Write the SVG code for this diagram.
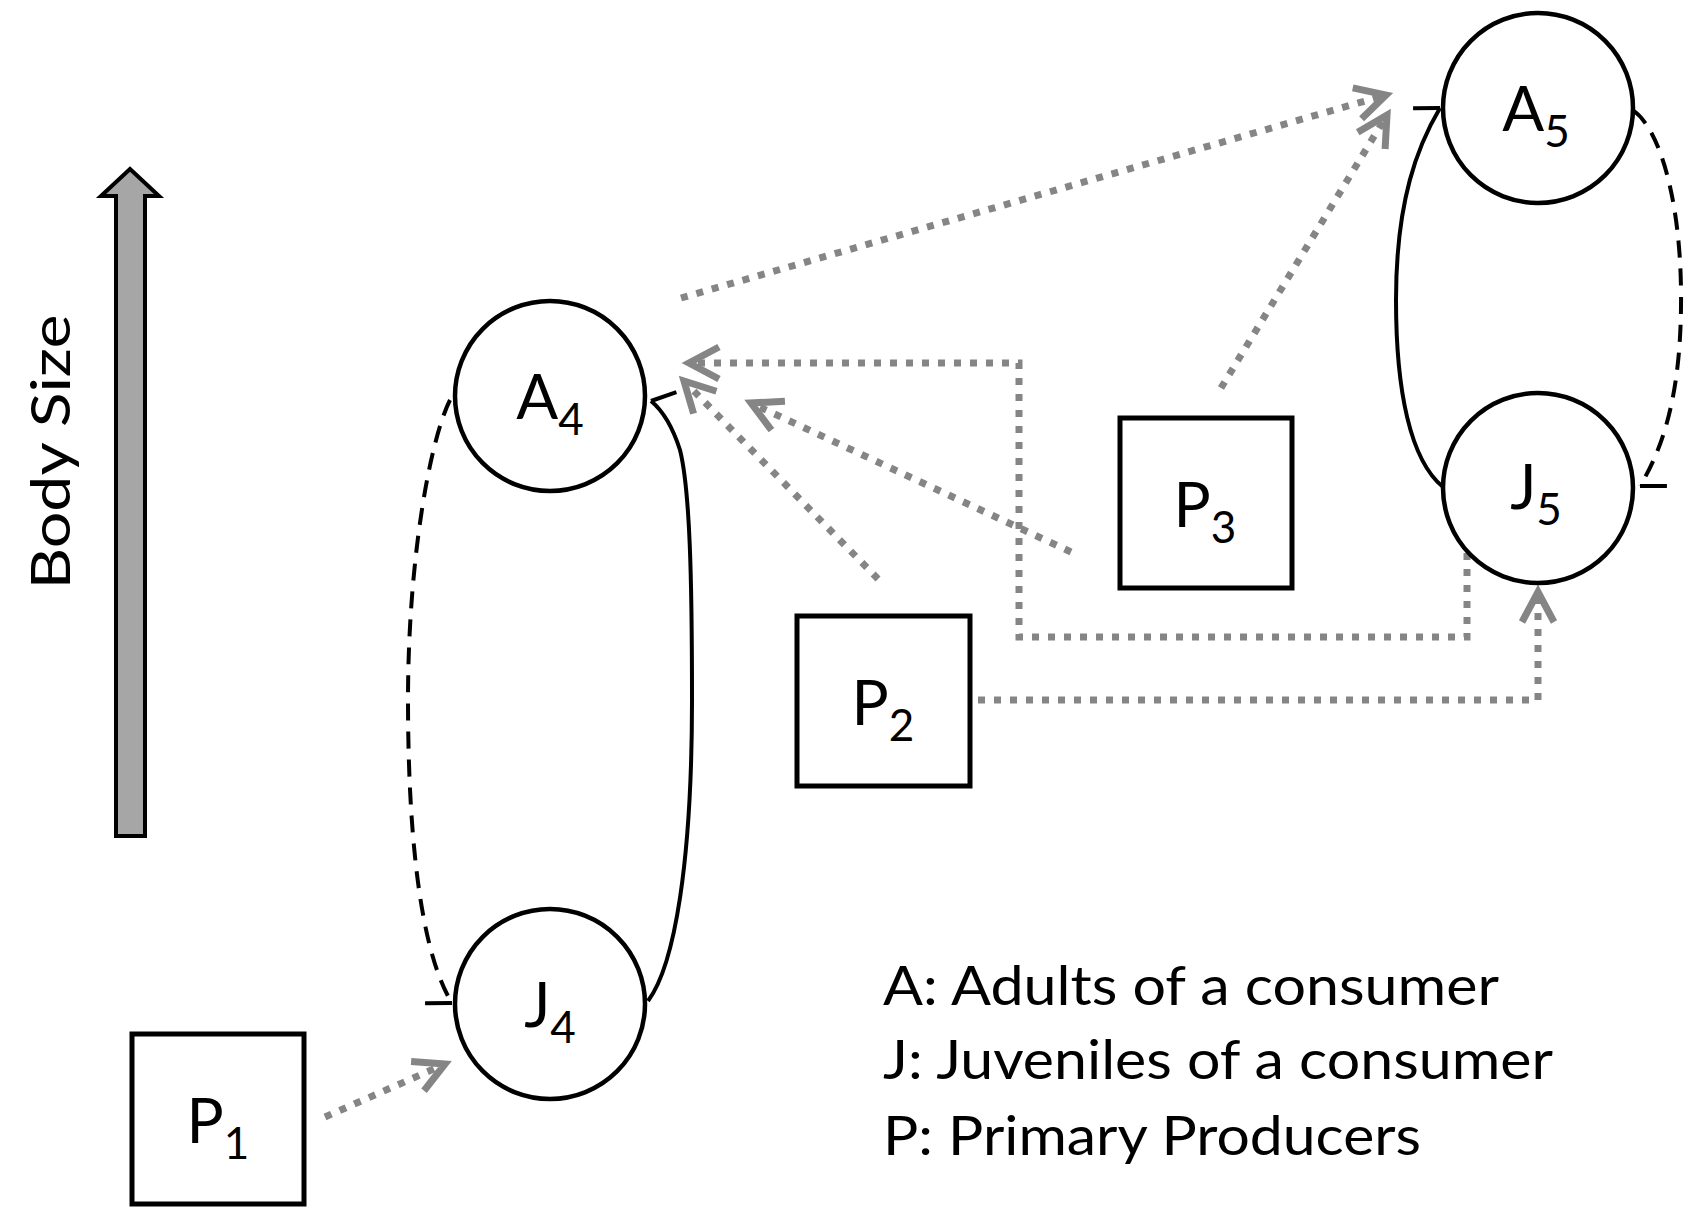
<svg xmlns="http://www.w3.org/2000/svg" width="1690" height="1217" viewBox="0 0 1690 1217">
<style>
  .node { fill: #ffffff; stroke: #000000; stroke-width: 4.5; }
  .box { fill: #ffffff; stroke: #000000; stroke-width: 5; }
  .lbl { font-family: Lato, "Liberation Sans", sans-serif; font-size: 62px; fill: #000000; text-anchor: middle; }
  .sub { font-size: 44px; }
  .legend { font-family: Lato, "Liberation Sans", sans-serif; font-size: 54px; fill: #000000; }
  .feed { fill: none; stroke: #858585; stroke-width: 7; stroke-dasharray: 7 9; marker-end: url(#chev); }
  .grow { fill: none; stroke: #000000; stroke-width: 4; }
  .dash { stroke-dasharray: 17 11; }
</style>
<defs>
  <marker id="chev" markerUnits="userSpaceOnUse" orient="auto" refX="0" refY="0" markerWidth="60" markerHeight="60" overflow="visible">
    <path d="M -30,-16 L 0,0 L -30,16" fill="none" stroke="#858585" stroke-width="7"/>
  </marker>
  <marker id="halfA" markerUnits="userSpaceOnUse" orient="auto" refX="0" refY="0" markerWidth="60" markerHeight="60" overflow="visible">
    <path d="M 0,0 L -14,23" fill="none" stroke="#000000" stroke-width="4"/>
  </marker>
  <marker id="halfB" markerUnits="userSpaceOnUse" orient="auto" refX="0" refY="0" markerWidth="60" markerHeight="60" overflow="visible">
    <path d="M 0,0 L -14,-23" fill="none" stroke="#000000" stroke-width="4"/>
  </marker>
</defs>
<rect width="1690" height="1217" fill="#ffffff"/>

<g id="body-size-axis">
  <polygon points="130,169 159,196 145,196 145,836 116,836 116,196 101,196" fill="#a6a6a6" stroke="#000000" stroke-width="4" stroke-linejoin="miter"/>
  <text class="legend" transform="translate(70,452) rotate(-90)" x="0" y="0" text-anchor="middle" font-size="62" textLength="275" lengthAdjust="spacingAndGlyphs">Body Size</text>
</g>

<g id="connectors">
  <path class="feed" d="M 325,1117 L 445,1064"/>
  <path class="feed" d="M 681,298 L 1386,95"/>
  <path class="feed" d="M 1221,388 L 1387,115"/>
  <path class="feed" d="M 1467,553 V 637 H 1019 V 363 H 689"/>
  <path class="feed" d="M 878,579 L 684,381"/>
  <path class="feed" d="M 1071,552 L 751,403"/>
  <path class="feed" d="M 978,700 H 1538 V 592"/>
  <path class="grow dash" marker-end="url(#halfA)" d="M 450,400 C 430,440 408,560 408,700 C 408,860 425,960 452,1003"/>
  <path class="grow" marker-end="url(#halfA)" d="M 648,1001 C 675,965 692,860 692,700 C 692,580 690,490 680,450 C 672,425 662,410 651,401"/>
  <path class="grow" marker-end="url(#halfB)" d="M 1443,487 C 1410,460 1396,390 1396,300 C 1396,200 1418,145 1440,108"/>
  <path class="grow dash" marker-end="url(#halfB)" d="M 1634,111 C 1660,130 1680,200 1681,290 C 1682,380 1668,440 1640,486"/>
</g>

<g id="A4">
  <circle class="node" cx="550" cy="396" r="95"/>
  <text class="lbl" x="550" y="419">A<tspan class="sub" dy="16">4</tspan></text>
</g>
<g id="J4">
  <circle class="node" cx="550" cy="1004" r="95"/>
  <text class="lbl" x="550" y="1027">J<tspan class="sub" dy="16">4</tspan></text>
</g>
<g id="A5">
  <circle class="node" cx="1538" cy="108" r="95"/>
  <text class="lbl" x="1536" y="131">A<tspan class="sub" dy="16">5</tspan></text>
</g>
<g id="J5">
  <circle class="node" cx="1538" cy="488" r="95"/>
  <text class="lbl" x="1536" y="509">J<tspan class="sub" dy="16">5</tspan></text>
</g>
<g id="P1">
  <rect class="box" x="132" y="1034" width="172" height="170"/>
  <text class="lbl" x="218" y="1143">P<tspan class="sub" dy="16">1</tspan></text>
</g>
<g id="P2">
  <rect class="box" x="797" y="616" width="173" height="170"/>
  <text class="lbl" x="883" y="725">P<tspan class="sub" dy="16">2</tspan></text>
</g>
<g id="P3">
  <rect class="box" x="1120" y="418" width="172" height="170"/>
  <text class="lbl" x="1205" y="527">P<tspan class="sub" dy="16">3</tspan></text>
</g>

<g id="legend">
  <text class="legend" x="883" y="1005" textLength="616" lengthAdjust="spacingAndGlyphs">A: Adults of a consumer</text>
  <text class="legend" x="883" y="1079" textLength="670" lengthAdjust="spacingAndGlyphs">J: Juveniles of a consumer</text>
  <text class="legend" x="883" y="1155" textLength="538" lengthAdjust="spacingAndGlyphs">P: Primary Producers</text>
</g>
</svg>
